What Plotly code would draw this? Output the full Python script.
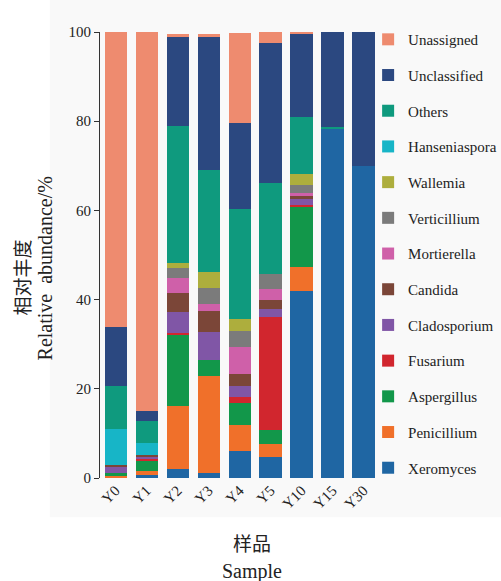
import plotly.graph_objects as go

# Samples (storage years)
samples = ["Y0", "Y1", "Y2", "Y3", "Y4", "Y5", "Y10", "Y15", "Y30"]

# Relative abundance (%) of each fungal genus per sample, bottom to top of the stack
xeromyces      = [0.1, 0.7, 2.0, 1.2, 6.1, 4.6, 42.0, 78.3, 69.9]
penicillium    = [0.4, 0.9, 14.2, 21.7, 5.8, 3.0, 5.3, 0.0, 0.0]
aspergillus    = [0.7, 2.4, 16.0, 3.6, 5.0, 3.2, 13.4, 0.0, 0.0]
fusarium       = [0.0, 0.2, 0.4, 0.0, 1.3, 25.4, 0.5, 0.0, 0.0]
cladosporium   = [1.3, 0.6, 4.6, 6.3, 2.5, 1.7, 1.4, 0.0, 0.0]
candida        = [0.5, 0.4, 4.2, 4.7, 2.6, 2.0, 0.6, 0.0, 0.0]
mortierella    = [0.0, 0.0, 3.4, 1.6, 6.1, 2.5, 0.7, 0.0, 0.0]
verticillium   = [0.0, 0.0, 2.3, 3.6, 3.6, 3.4, 1.9, 0.0, 0.0]
wallemia       = [0.0, 0.0, 1.2, 3.6, 2.7, 0.0, 2.4, 0.0, 0.0]
hanseniaspora  = [7.9, 2.7, 0.0, 0.0, 0.0, 0.0, 0.0, 0.0, 0.0]
others         = [9.8, 4.8, 30.7, 22.7, 24.7, 20.3, 12.7, 0.4, 0.0]
unclassified   = [13.2, 2.3, 20.1, 29.8, 19.3, 31.5, 18.7, 21.3, 30.1]
unassigned     = [66.1, 85.1, 0.4, 0.7, 20.0, 2.4, 0.2, 0.0, 0.0]

genera = [
    ("Xeromyces", xeromyces, "#1f66a3"),
    ("Penicillium", penicillium, "#f0702a"),
    ("Aspergillus", aspergillus, "#12974a"),
    ("Fusarium", fusarium, "#d1262e"),
    ("Cladosporium", cladosporium, "#8056a6"),
    ("Candida", candida, "#7b4638"),
    ("Mortierella", mortierella, "#cf60a9"),
    ("Verticillium", verticillium, "#7b7b7b"),
    ("Wallemia", wallemia, "#adae3d"),
    ("Hanseniaspora", hanseniaspora, "#17b5c7"),
    ("Others", others, "#0f9a7e"),
    ("Unclassified", unclassified, "#2b4880"),
    ("Unassigned", unassigned, "#ee8b6f"),
]

serif = "Liberation Serif, Times New Roman, serif"
cjk_serif = "Liberation Serif, Noto Sans CJK SC, serif"

fig = go.Figure()
n = len(genera)
for i, (name, vals, color) in enumerate(genera):
    fig.add_trace(go.Bar(
        x=samples, y=vals, name=name, legendgroup=name,
        legendrank=n - i,  # top of the stack listed first
        marker=dict(color=color, line=dict(width=0)),
    ))

fig.update_layout(
    width=501, height=581,
    barmode="stack", bargap=0.29,
    margin=dict(l=100, r=122, t=32, b=103, autoexpand=False),
    paper_bgcolor="white", plot_bgcolor="rgba(0,0,0,0)",
    font=dict(family=serif, size=15, color="#222"),
    legend=dict(
        traceorder="grouped", tracegroupgap=13.2,
        x=0.961, xanchor="left", y=1.02, yanchor="top",
        maxheight=575,
        font=dict(family=serif, size=15, color="#222"),
        bgcolor="rgba(0,0,0,0)",
    ),
    xaxis=dict(
        showline=False, ticks="", tickangle=-45,
        tickfont=dict(family=serif, size=15, color="#222"),
    ),
    yaxis=dict(
        range=[0, 100], tickvals=[0, 20, 40, 60, 80, 100],
        showline=True, linecolor="#333", linewidth=1,
        ticks="outside", ticklen=5, tickcolor="#333",
        showgrid=False, zeroline=False,
        tickfont=dict(family=serif, size=15, color="#222"),
    ),
    shapes=[dict(
        type="rect", xref="paper", yref="paper",
        x0=-0.18, x1=1.44, y0=-0.088, y1=1.08,
        fillcolor="#f9f9f9", line=dict(width=0), layer="below",
    )],
    annotations=[
        dict(text="相对丰度", xref="paper", yref="paper",
             x=-0.275, y=0.45, textangle=-90, showarrow=False,
             xanchor="center", yanchor="middle",
             font=dict(family=cjk_serif, size=19, color="#222")),
        dict(text="Relative  abundance/%", xref="paper", yref="paper",
             x=-0.197, y=0.47, textangle=-90, showarrow=False,
             xanchor="center", yanchor="middle",
             font=dict(family=serif, size=20, color="#222")),
        dict(text="样品", xref="paper", yref="paper",
             x=0.545, y=-0.149, showarrow=False,
             xanchor="center", yanchor="middle",
             font=dict(family=cjk_serif, size=19, color="#222")),
        dict(text="Sample", xref="paper", yref="paper",
             x=0.545, y=-0.21, showarrow=False,
             xanchor="center", yanchor="middle",
             font=dict(family=serif, size=20, color="#222")),
    ],
)

fig.write_html("out.html")
